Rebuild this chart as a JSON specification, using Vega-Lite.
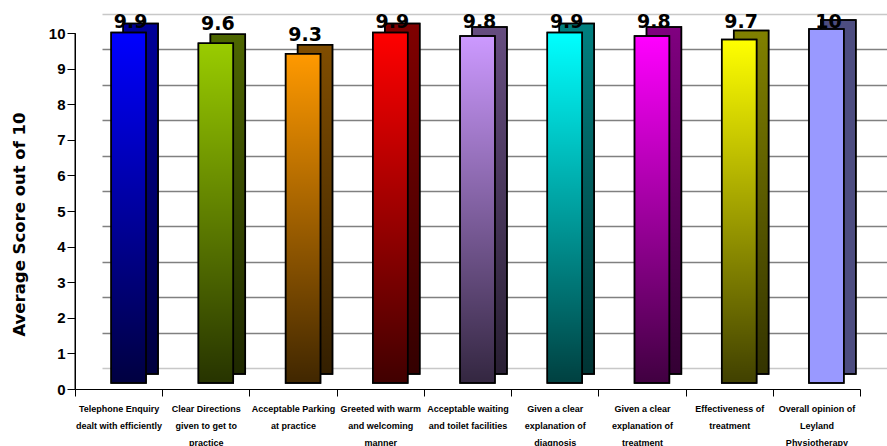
{
  "$schema": "https://vega.github.io/schema/vega-lite/v6.json",
  "width": 812,
  "height": 354,
  "autosize": {"type": "none"},
  "padding": {"left": 75, "top": 14, "right": 0, "bottom": 78},
  "background": "white",
  "config": {"view": {"stroke": null}},
  "data": {
    "values": [
      {"item": "Telephone Enquiry|dealt with efficiently", "score": 9.9},
      {"item": "Clear Directions|given to get to|practice", "score": 9.6},
      {"item": "Acceptable Parking|at practice", "score": 9.3},
      {"item": "Greeted with warm|and welcoming|manner", "score": 9.9},
      {"item": "Acceptable waiting|and toilet facilities", "score": 9.8},
      {"item": "Given a clear|explanation of|diagnosis", "score": 9.9},
      {"item": "Given a clear|explanation of|treatment", "score": 9.8},
      {"item": "Effectiveness of|treatment", "score": 9.7},
      {"item": "Overall opinion of|Leyland|Physiotherapy", "score": 10}
    ]
  },
  "layer": [
    {
      "layer": [
        {
          "mark": {"type": "bar", "stroke": "black", "strokeWidth": 1.5, "xOffset": 22, "yOffset": 6, "width": {"band": 0.4}},
          "encoding": {
            "x": {
              "field": "item", "type": "nominal", "sort": null,
              "scale": {"range": [0, 785], "paddingInner": 0, "paddingOuter": 0},
              "axis": {
                "title": null, "labelAngle": 0, "labelExpr": "datum.value ? split(datum.value, '|') : ''",
                "offset": 21, "domainColor": "black", "domainWidth": 1, "tickColor": "black", "tickSize": 7,
                "tickBand": "extent", "labelPadding": 8, "labelBaseline": "top", "labelLineHeight": 17,
                "labelFont": "Liberation Sans", "labelFontSize": 9, "labelFontWeight": "bold", "labelColor": "black", "labelLimit": 0
              }
            },
            "y": {
              "field": "score", "type": "quantitative",
              "scale": {"domain": [0, 10], "nice": false},
              "axis": {"orient": "right", "title": null, "values": [0, 1, 2, 3, 4, 5, 6, 7, 8, 9, 10], "grid": true, "labels": false, "ticks": false, "domain": false,
                "gridColor": {"condition": {"test": "datum.value === 0 || datum.value === 10", "value": "#c8c8c8"}, "value": "#808080"}, "gridWidth": 1.3}
            },
            "fill": {
              "field": "item", "type": "nominal", "legend": null,
              "scale": {
                "domain": ["Telephone Enquiry|dealt with efficiently", "Clear Directions|given to get to|practice", "Acceptable Parking|at practice", "Greeted with warm|and welcoming|manner", "Acceptable waiting|and toilet facilities", "Given a clear|explanation of|diagnosis", "Given a clear|explanation of|treatment", "Effectiveness of|treatment", "Overall opinion of|Leyland|Physiotherapy"],
                "range": ["#000099", "#4d6600", "#804d00", "#800000", "#664d80", "#008080", "#800080", "#808000", "#4d4d80"]
              }
            }
          }
        },
        {
          "mark": {"type": "bar", "stroke": "black", "strokeWidth": 1.5, "xOffset": 22, "yOffset": 6, "width": {"band": 0.4},
            "fill": {"gradient": "linear", "x1": 0, "y1": 0, "x2": 0, "y2": 1, "stops": [{"offset": 0, "color": "rgba(0,0,0,0)"}, {"offset": 1, "color": "rgba(0,0,0,0.6)"}]}},
          "encoding": {
            "x": {"field": "item", "type": "nominal", "sort": null},
            "y": {"field": "score", "type": "quantitative",
              "axis": {"orient": "right", "title": null, "values": [0, 1, 2, 3, 4, 5, 6, 7, 8, 9, 10], "grid": true, "labels": false, "ticks": false, "domain": false,
                "gridColor": {"condition": {"test": "datum.value === 0 || datum.value === 10", "value": "#c8c8c8"}, "value": "#808080"}, "gridWidth": 1.3}},
            "fillOpacity": {"condition": {"test": "datum.score >= 10", "value": 0}, "value": 1}
          }
        },
        {
          "mark": {"type": "bar", "stroke": "black", "strokeWidth": 1.5, "xOffset": 10, "yOffset": 15, "width": {"band": 0.4}},
          "encoding": {
            "x": {"field": "item", "type": "nominal", "sort": null},
            "y": {"field": "score", "type": "quantitative",
              "axis": {"orient": "right", "title": null, "values": [0, 1, 2, 3, 4, 5, 6, 7, 8, 9, 10], "grid": true, "labels": false, "ticks": false, "domain": false,
                "gridColor": {"condition": {"test": "datum.value === 0 || datum.value === 10", "value": "#c8c8c8"}, "value": "#808080"}, "gridWidth": 1.3}},
            "fill": {
              "field": "item", "type": "nominal", "legend": null,
              "scale": {
                "domain": ["Telephone Enquiry|dealt with efficiently", "Clear Directions|given to get to|practice", "Acceptable Parking|at practice", "Greeted with warm|and welcoming|manner", "Acceptable waiting|and toilet facilities", "Given a clear|explanation of|diagnosis", "Given a clear|explanation of|treatment", "Effectiveness of|treatment", "Overall opinion of|Leyland|Physiotherapy"],
                "range": ["#0000ff", "#99cc00", "#ff9900", "#ff0000", "#cc99ff", "#00ffff", "#ff00ff", "#ffff00", "#9999ff"]
              }
            }
          }
        },
        {
          "mark": {"type": "bar", "stroke": "black", "strokeWidth": 1.5, "xOffset": 10, "yOffset": 15, "width": {"band": 0.4},
            "fill": {"gradient": "linear", "x1": 0, "y1": 0, "x2": 0, "y2": 1, "stops": [{"offset": 0, "color": "rgba(0,0,0,0)"}, {"offset": 1, "color": "rgba(0,0,0,0.75)"}]}},
          "encoding": {
            "x": {"field": "item", "type": "nominal", "sort": null},
            "y": {"field": "score", "type": "quantitative",
              "axis": {"orient": "right", "title": null, "values": [0, 1, 2, 3, 4, 5, 6, 7, 8, 9, 10], "grid": true, "labels": false, "ticks": false, "domain": false,
                "gridColor": {"condition": {"test": "datum.value === 0 || datum.value === 10", "value": "#c8c8c8"}, "value": "#808080"}, "gridWidth": 1.3}},
            "fillOpacity": {"condition": {"test": "datum.score >= 10", "value": 0}, "value": 1}
          }
        }
      ],
      "resolve": {"scale": {"fill": "independent"}}
    },
    {
      "transform": [{"filter": "datum.item == 'Telephone Enquiry|dealt with efficiently'"}],
      "mark": {"type": "rule", "color": "black", "strokeWidth": 1},
      "encoding": {
        "x": {"field": "item", "type": "nominal", "sort": null, "bandPosition": 0},
        "y": {"datum": 0, "type": "quantitative",
          "scale": {"domain": [0, 10], "range": [375, 19], "nice": false},
          "axis": {
            "orient": "left", "title": "Average Score out of 10", "titleFont": "DejaVu Sans", "titleFontSize": 16.5, "titleFontWeight": "bold", "titleColor": "black", "titlePadding": 21, "titleY": 210,
            "values": [0, 1, 2, 3, 4, 5, 6, 7, 8, 9, 10], "labelOverlap": false, "grid": false,
            "domain": true, "domainColor": "black", "domainWidth": 1, "ticks": true, "tickColor": "black", "tickSize": 8, "labelPadding": 2,
            "labelFont": "Liberation Sans", "labelFontSize": 15, "labelFontWeight": "bold", "labelColor": "black"
          }
        },
        "y2": {"datum": 10}
      }
    },
    {
      "mark": {"type": "text", "font": "DejaVu Sans", "fontSize": 19, "fontWeight": "bold", "color": "black", "baseline": "alphabetic", "align": "center", "xOffset": 12, "yOffset": 2},
      "encoding": {
        "x": {"field": "item", "type": "nominal", "sort": null},
        "y": {"field": "score", "type": "quantitative", "axis": null, "scale": {"domain": [0, 9.66], "range": [354, 12], "clamp": true, "zero": true, "nice": false}},
        "text": {"field": "score", "type": "quantitative"}
      }
    }
  ],
  "resolve": {"scale": {"y": "independent"}}
}
